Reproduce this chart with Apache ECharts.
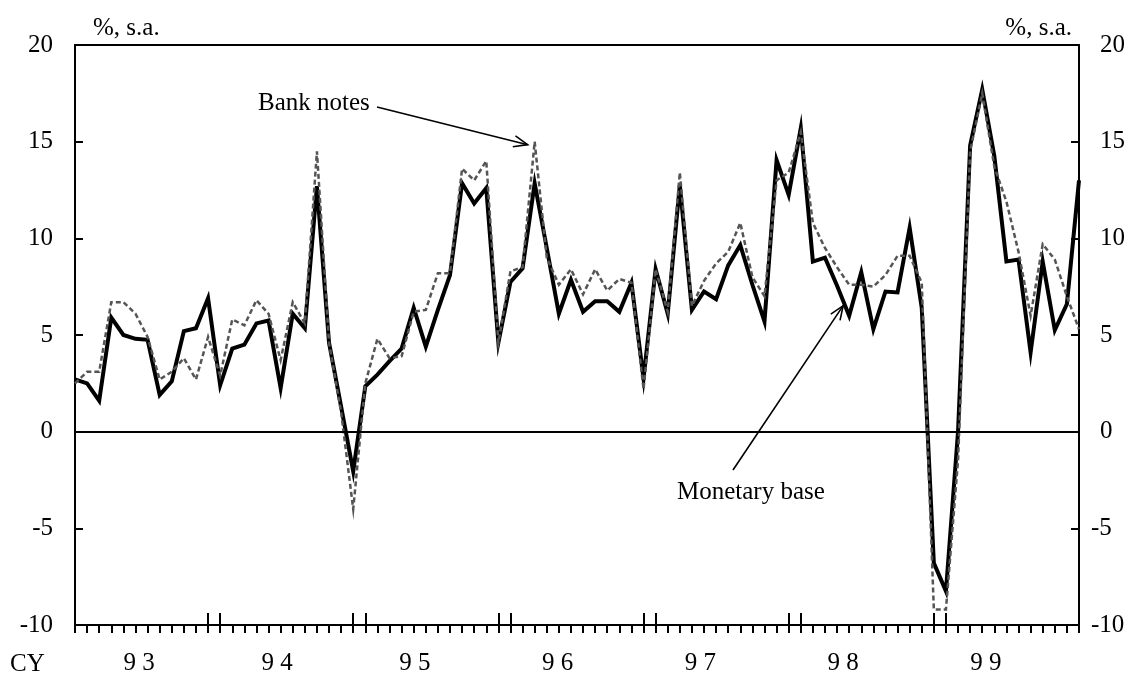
<!DOCTYPE html>
<html>
<head>
<meta charset="utf-8">
<script src="https://cdn.jsdelivr.net/npm/echarts@6/dist/echarts.min.js"></script>
<style>
html,body{margin:0;padding:0;background:#fff;}
#chart{width:1143px;height:682px;}
</style>
</head>
<body>
<div id="chart"></div>
<script>
// ---- data ----
const years = [1993, 1994, 1995, 1996, 1997, 1998, 1999];
const yearLabels = ['9 3', '9 4', '9 5', '9 6', '9 7', '9 8', '9 9'];
const months = [];
years.forEach(y => { for (let m = 1; m <= 12; m++) months.push(y + '-' + (m < 10 ? '0' + m : m)); });

const monetaryBase = [
  2.7, 2.5, 1.6, 5.9, 5.0, 4.8, 4.75, 1.9, 2.6, 5.2, 5.35, 6.9,
  2.4, 4.3, 4.5, 5.6, 5.75, 2.25, 6.1, 5.35, 12.7, 4.6, 1.3, -2.05,
  2.35, 2.95, 3.65, 4.3, 6.4, 4.4, 6.3, 8.1, 12.85, 11.8, 12.6, 4.6,
  7.75, 8.45, 12.85, 9.5, 6.1, 7.85, 6.2, 6.75, 6.75, 6.2, 7.7, 2.75,
  8.4, 6.1, 12.75, 6.3, 7.25, 6.85, 8.6, 9.65, 7.6, 5.7, 14.05, 12.25,
  15.7, 8.8, 9.0, 7.55, 6.0, 8.25, 5.3, 7.25, 7.2, 10.55, 6.4, -6.8,
  -8.25, 0.0, 14.8, 17.7, 14.25, 8.8, 8.9, 4.1, 8.8, 5.25, 6.6, 13.0
];
const bankNotes = [
  2.5, 3.1, 3.1, 6.7, 6.7, 6.1, 4.9, 2.7, 3.1, 3.8, 2.7, 4.9,
  2.9, 5.8, 5.5, 6.8, 6.1, 3.7, 6.7, 5.6, 14.5, 4.6, 1.0, -4.0,
  2.5, 4.8, 3.8, 3.9, 6.2, 6.3, 8.2, 8.2, 13.6, 13.0, 14.0, 4.6,
  8.3, 8.5, 15.0, 9.0, 7.6, 8.4, 7.1, 8.4, 7.3, 7.9, 7.7, 2.2,
  8.4, 6.2, 13.4, 6.5, 7.8, 8.7, 9.3, 10.8, 8.0, 7.0, 13.0, 13.4,
  15.5, 10.8, 9.5, 8.5, 7.6, 7.6, 7.5, 8.1, 9.1, 9.1, 7.7, -9.2,
  -9.2, -1.5, 14.5, 17.5, 13.7, 11.9, 9.3, 6.0, 9.7, 8.9, 7.0, 5.3
];
const yMin = -10, yMax = 20, yStep = 5;

// ---- layout helpers (label positions in month-index units) ----
const yearLabelPos = [5.3, 16.7, 28.1, 39.9, 51.7, 63.5, 75.3];
const n = months.length;
const yearTickPos = [];
years.forEach((y, k) => { if (k > 0) { yearTickPos.push(12 * k - 1); yearTickPos.push(12 * k); } });

const FONT = "'Liberation Serif', 'Times New Roman', serif";
const FS = 25;

const chart = echarts.init(document.getElementById('chart'), null, {renderer: 'canvas'});

const option = {
  animation: false,
  backgroundColor: '#fff',
  grid: {left: 75, right: 64, top: 45, bottom: 57},
  xAxis: [
    {
      type: 'category', data: months, boundaryGap: false, position: 'bottom',
      axisLine: {show: true, onZero: false, lineStyle: {color: '#000', width: 2}},
      axisTick: {show: true, inside: false, length: 8, interval: 0, lineStyle: {color: '#000', width: 2}},
      axisLabel: {show: false}, splitLine: {show: false}
    },
    {
      type: 'value', min: 0, max: n - 1, position: 'bottom',
      axisLine: {show: false, onZero: false},
      axisTick: {show: true, inside: true, length: 12, customValues: yearTickPos, lineStyle: {color: '#000', width: 2}},
      axisLabel: {
        show: true, customValues: yearLabelPos, margin: 26,
        formatter: v => yearLabels[yearLabelPos.indexOf(v)],
        fontSize: FS, fontFamily: FONT, color: '#000'
      },
      splitLine: {show: false}
    },
    {
      type: 'value', min: 0, max: n - 1, position: 'top',
      axisLine: {show: true, onZero: false, lineStyle: {color: '#000', width: 2}},
      axisTick: {show: false}, axisLabel: {show: false}, splitLine: {show: false}
    }
  ],
  yAxis: [
    {
      type: 'value', min: yMin, max: yMax, interval: yStep, position: 'left',
      axisLine: {show: true, onZero: false, lineStyle: {color: '#000', width: 2}},
      axisTick: {show: true, inside: true, length: 8, lineStyle: {color: '#000', width: 2}},
      axisLabel: {margin: 22, fontSize: FS, fontFamily: FONT, color: '#000'},
      splitLine: {show: false}
    },
    {
      type: 'value', min: yMin, max: yMax, interval: yStep, position: 'right',
      axisLine: {show: true, onZero: false, lineStyle: {color: '#000', width: 2}},
      axisTick: {show: true, inside: true, length: 8, lineStyle: {color: '#000', width: 2}},
      axisLabel: {margin: 21, align: 'left', fontSize: FS, fontFamily: FONT, color: '#000',
        formatter: v => (v >= 0 ? String(v) : '')},
      splitLine: {show: false}
    },
    {
      type: 'value', min: yMin, max: yMax, interval: yStep, position: 'right',
      axisLine: {show: false, onZero: false}, axisTick: {show: false},
      axisLabel: {margin: 12, align: 'left', fontSize: FS, fontFamily: FONT, color: '#000',
        formatter: v => (v < 0 ? String(v) : '')},
      splitLine: {show: false}
    }
  ],
  series: [
    {
      name: 'Monetary base', type: 'line', xAxisIndex: 0, yAxisIndex: 0,
      data: monetaryBase, symbol: 'none', z: 3,
      lineStyle: {color: '#000', width: 4, join: 'miter', cap: 'butt'},
      markLine: {
        silent: true, symbol: ['none', 'none'], label: {show: false},
        lineStyle: {color: '#000', width: 2, type: 'solid'},
        data: [{yAxis: 0}]
      }
    },
    {
      name: 'Bank notes', type: 'line', xAxisIndex: 0, yAxisIndex: 0,
      data: bankNotes, symbol: 'none', z: 4,
      lineStyle: {color: '#555', width: 2.5, type: [5, 3], join: 'miter'}
    }
  ]
};
chart.setOption(option);

function arrow(s, t) {
  const th = Math.atan2(t[1] - s[1], t[0] - s[0]);
  const L = 15, a = 0.38;
  const a1 = [t[0] - L * Math.cos(th - a), t[1] - L * Math.sin(th - a)];
  const a2 = [t[0] - L * Math.cos(th + a), t[1] - L * Math.sin(th + a)];
  return [
    {type: 'line', shape: {x1: s[0], y1: s[1], x2: t[0], y2: t[1]}, style: {stroke: '#000', lineWidth: 1.6}, z: 10},
    {type: 'polyline', shape: {points: [a1, t, a2]}, style: {stroke: '#000', lineWidth: 1.6, fill: null}, z: 10}
  ];
}

const pBN = chart.convertToPixel({xAxisIndex: 0, yAxisIndex: 0}, [months[38], bankNotes[38]]);
const pMB = chart.convertToPixel({xAxisIndex: 0, yAxisIndex: 0}, [months[64], monetaryBase[64]]);
const tipBN = [pBN[0] - 7, pBN[1] + 3];
const tipMB = [pMB[0] - 6, pMB[1] - 10];

const txt = (x, y, s, align) => ({
  type: 'text', x: x, y: y, z: 10,
  style: {text: s, fontSize: FS, fontFamily: FONT, fill: '#000', align: align || 'left', verticalAlign: 'middle'}
});

chart.setOption({
  graphic: [
    txt(93, 28, '%, s.a.'),
    txt(1072, 28, '%, s.a.', 'right'),
    txt(10, 664, 'CY'),
    txt(258, 103, 'Bank notes'),
    txt(677, 492, 'Monetary base'),
    ...arrow([377, 107], tipBN),
    ...arrow([733, 470], tipMB)
  ]
});
</script>
</body>
</html>
